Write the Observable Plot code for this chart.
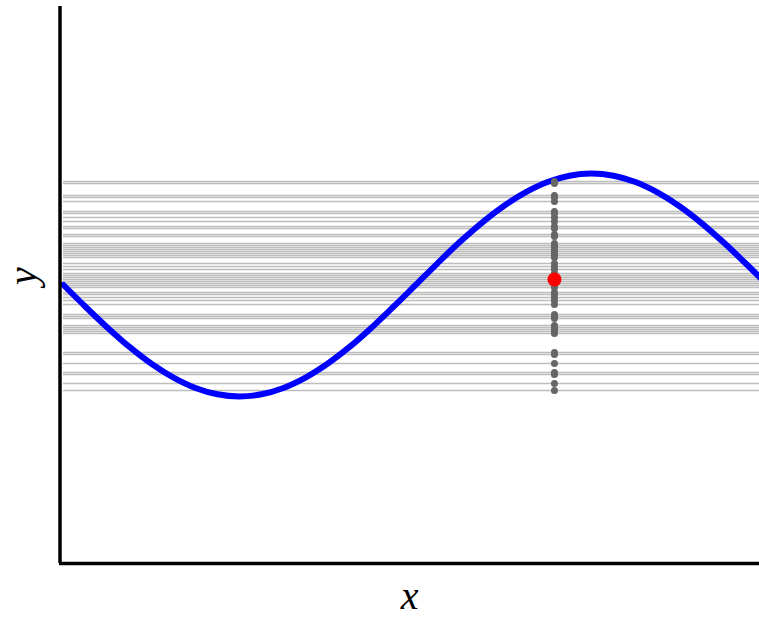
<!DOCTYPE html>
<html>
<head>
<meta charset="utf-8">
<script src="https://cdn.jsdelivr.net/npm/d3@7"></script>
<script src="https://cdn.jsdelivr.net/npm/@observablehq/plot@0.6"></script>
<style>
  html, body { margin: 0; padding: 0; background: #fff; }
</style>
</head>
<body>
<div id="chart"></div>
<script>
// Curve samples (x in radians, y value)
const curveX = [0, 0.196, 0.393, 0.589, 0.785, 0.982, 1.178, 1.374, 1.571, 1.767, 1.963, 2.160, 2.356, 2.553, 2.749, 2.945, 3.142, 3.338, 3.534, 3.731, 3.927, 4.123, 4.320, 4.516, 4.712, 4.909, 5.105, 5.301, 5.498, 5.694, 5.890, 6.087, 6.283];
const curveY = [0, -0.195, -0.383, -0.556, -0.707, -0.831, -0.924, -0.981, -1, -0.981, -0.924, -0.831, -0.707, -0.556, -0.383, -0.195, 0, 0.195, 0.383, 0.556, 0.707, 0.831, 0.924, 0.981, 1, 0.981, 0.924, 0.831, 0.707, 0.556, 0.383, 0.195, 0];

// Sampled values (gray dots and horizontal lines)
const sampleX = 4.382;
const sampleY = [0.929, 0.911, 0.803, 0.785, 0.750, 0.660, 0.642, 0.606, 0.570, 0.525, 0.507, 0.453, 0.435, 0.373, 0.355, 0.337, 0.319, 0.301, 0.283, 0.265, 0.247, 0.193, 0.166, 0.139, 0.103, 0.085, 0.067, 0.049, 0.031, 0.013, -0.004, -0.022, -0.067, -0.085, -0.112, -0.139, -0.175, -0.265, -0.283, -0.301, -0.364, -0.382, -0.400, -0.418, -0.435, -0.606, -0.624, -0.705, -0.785, -0.803, -0.884, -0.947];

// Highlighted point (mean)
const meanY = 0.049;

const xDomain = [-0.0357, 6.212];
const yDomain = [-2.5, 2.5];
const lineStart = 0;
const lineEnd = 6.3;

const curve = curveX.map((x, i) => ({x, y: curveY[i]}));
const samples = sampleY.map(y => ({x: sampleX, y}));

const chart = Plot.plot({
  width: 759,
  height: 618,
  marginLeft: 59,
  marginRight: 0,
  marginTop: 6,
  marginBottom: 55,
  x: {domain: xDomain, axis: null},
  y: {domain: yDomain, axis: null},
  style: {background: "white", fontFamily: "'Liberation Serif', serif", fontStyle: "italic", fontSize: "40px", color: "black", overflow: "visible"},
  marks: [
    Plot.ruleY(samples, {y: "y", x1: lineStart, x2: lineEnd, stroke: "#999", strokeOpacity: 0.65, strokeWidth: 1.5, clip: true}),
    Plot.line(curve, {x: "x", y: "y", stroke: "#0000ff", strokeWidth: 6, curve: "catmull-rom", clip: true}),
    Plot.dot(samples, {x: "x", y: "y", r: 3.5, fill: "#666666", stroke: "none"}),
    Plot.dot([{x: sampleX, y: meanY}], {x: "x", y: "y", r: 7, fill: "#ff0000", stroke: "none"}),
    Plot.ruleX([xDomain[0]], {stroke: "black", strokeWidth: 3.5, dx: 0.5}),
    Plot.ruleY([yDomain[0]], {stroke: "black", strokeWidth: 3.5, x1: xDomain[0], x2: xDomain[1]}),
    Plot.text(["x"], {frameAnchor: "bottom", text: d => d, dy: 45, fontSize: 40, fontStyle: "italic"}),
    Plot.text(["y"], {frameAnchor: "left", text: d => d, rotate: -90, dx: -36, fontSize: 40, fontStyle: "italic"})
  ]
});
document.getElementById("chart").appendChild(chart);
</script>
</body>
</html>
